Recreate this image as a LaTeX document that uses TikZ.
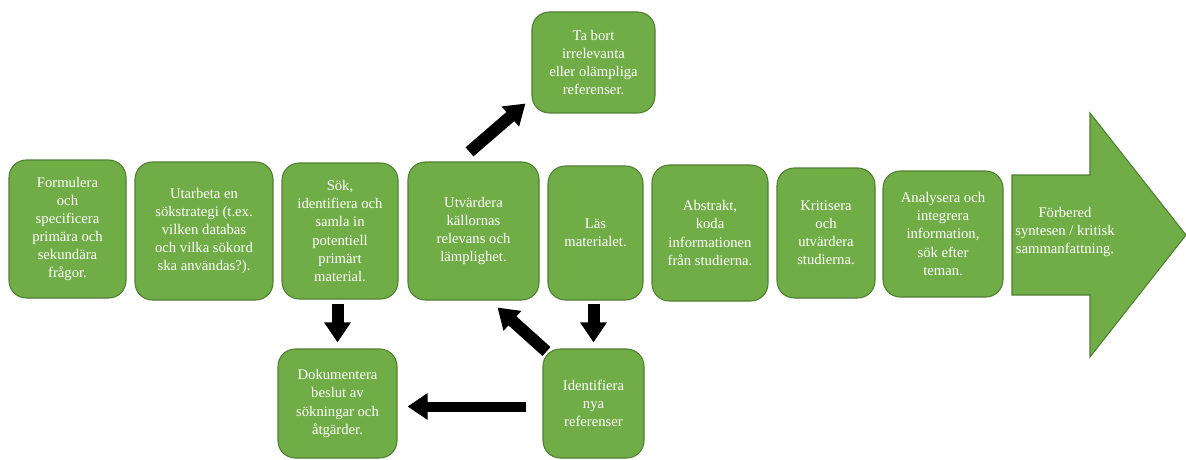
\documentclass[tikz,border=0pt]{standalone}
\usepackage{fontspec}
\setmainfont{Liberation Serif}
\usetikzlibrary{arrows.meta,calc}
\definecolor{stagegreen}{HTML}{70AD47}
\definecolor{stageline}{HTML}{507E32}
\tikzset{
	stage/.style={draw=stageline,fill=stagegreen,line width=0.8pt,rounded corners=13pt,
		text=white,align=center,inner sep=0pt,font=\fontsize{11}{13.6}\selectfont},
	fat/.style={line width=9pt,-{Triangle[width=19pt,length=15pt]}}
}

\begin{document}
\begin{tikzpicture}[x=0.75pt,y=-0.75pt]
		\useasboundingbox (0,0) rectangle (1186,460);
		\draw (67.5,229) 	node (form) [stage,minimum width=87.75pt,minimum height=103.5pt] {Formulera\\och\\specificera\\primära och\\sekundära\\frågor.};
		\draw (204,231) 	node (strat) [stage,minimum width=103.5pt,minimum height=103.5pt] {Utarbeta en\\sökstrategi (t.ex.\\vilken databas\\och vilka sökord\\ska användas?).};
		\draw (340,231) 	node (sok) [stage,minimum width=87pt,minimum height=102pt] {Sök,\\identifiera och\\samla in\\potentiell\\primärt\\material.};
		\draw (473.5,231) 	node (utv) [stage,minimum width=98.25pt,minimum height=103.5pt] {Utvärdera\\källornas\\relevans och\\lämplighet.};
		\draw (595.5,233) 	node (las) [stage,minimum width=71.25pt,minimum height=100.5pt] {Läs\\materialet.};
		\draw (710,233) 	node (abs) [stage,minimum width=87pt,minimum height=102pt] {Abstrakt,\\koda\\informationen\\från studierna.};
		\draw (826,233) 	node (krit) [stage,minimum width=73.5pt,minimum height=97.5pt] {Kritisera\\och\\utvärdera\\studierna.};
		\draw (943,234) 	node (anal) [stage,minimum width=90pt,minimum height=94.5pt] {Analysera och\\integrera\\information,\\sök efter\\teman.};
		\draw (593.5,62.5) 	node (tabort) [stage,minimum width=92.25pt,minimum height=75.75pt] {Ta bort\\irrelevanta\\eller olämpliga\\referenser.};
		\draw (337.5,403.5) node (dok) [stage,minimum width=89.25pt,minimum height=81.75pt] {Dokumentera\\beslut av\\sökningar och\\åtgärder.};
		\draw (593.5,403.5) node (iden) [stage,minimum width=75.75pt,minimum height=81.75pt] {Identifiera\\nya\\referenser};
		% stora pilen till hoger
		\draw [stage,rounded corners=0pt] (1012,175) -- (1090,175) -- (1090,113) -- (1186,235) -- (1090,357) -- (1090,295) -- (1012,295) -- cycle;
		\draw (1065,232) 	node (synt) [text=white,align=center,font=\fontsize{11}{13.6}\selectfont] {Förbered\\syntesen / kritisk\\sammanfattning.};
		% pilar
		\draw [fat,shorten <=3pt] ($(utv.north)+(-7,-7)$) -- ($(tabort.south west)+(-6,-10)$);
		\draw [fat,shorten <=3pt,shorten >=4.5pt] (dok.north |- sok.south) -- (dok.north);
		\draw [fat,shorten <=2.25pt,shorten >=4.5pt] (iden.north |- las.south) -- (iden.north);
		\draw [fat] ($(iden.north west)+(4,3)$) -- ($(utv.south east)+(-42,7)$);
		\draw [fat,line width=7.5pt] ($(iden.west)+(-16,3)$) -- ($(dok.east)+(10,3)$);
	\end{tikzpicture}
\end{document}
